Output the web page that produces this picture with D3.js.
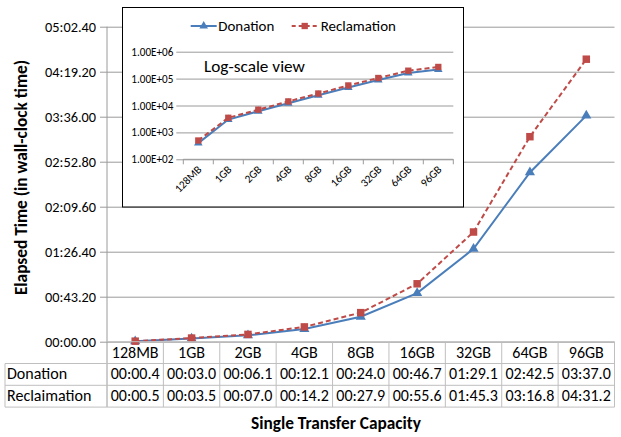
<!DOCTYPE html>
<html>
<head>
<meta charset="utf-8">
<style>
  body { margin: 0; background: #fff; }
  svg { display: block; font-family: Carlito, Calibri, Lato, "Open Sans", sans-serif; }
  .grid line { stroke: #9a9a9a; }
  .grid .domain { display: none; }
</style>
</head>
<body>
<div class="start"></div>
<script src="https://cdn.jsdelivr.net/npm/d3@7/dist/d3.min.js"></script>
<script>
var categories = ["128MB", "1GB", "2GB", "4GB", "8GB", "16GB", "32GB", "64GB", "96GB"];
// seconds
var donation    = [0.4, 3.0, 6.1, 12.1, 24.0, 46.7, 89.1, 162.5, 217.0];
var reclamation = [0.5, 3.5, 7.0, 14.2, 27.9, 55.6, 105.3, 196.8, 271.2];
var yTicks = [0, 43.2, 86.4, 129.6, 172.8, 216, 259.2, 302.4];
var logTicks = [1e2, 1e3, 1e4, 1e5, 1e6];
var seriesNames = ["Donation", "Reclamation"];
var rowNames = ["Donation", "Reclaimation"];

var blue = "#4a7ebb", red = "#be4b48";

function pad(n) { return (n < 10 ? "0" : "") + n; }
function fmtTick(s) {
  var m = Math.floor(s / 60), r = s - m * 60;
  return pad(m) + ":" + (r < 10 ? "0" : "") + r.toFixed(2);
}
function fmtCell(s) {
  var m = Math.floor(s / 60), r = s - m * 60;
  return pad(m) + ":" + (r < 10 ? "0" : "") + r.toFixed(1);
}

var svg = d3.select(".start").append("svg")
  .attr("width", 621).attr("height", 437);

// pick a font size so that a sample string is about as wide as in the picture
function fitSize(str, width, bold) {
  var t = svg.append("text").style("font-size", "20px")
    .style("font-weight", bold ? "bold" : null).text(str);
  var w = t.node().getComputedTextLength();
  t.remove();
  return (20 * width / w) + "px";
}

var fTick = fitSize("05:02.40", 51);
var fCell = fitSize("00:00.4", 49);
var fTitle = fitSize("Single Transfer Capacity", 170, true);
var fSmall = fitSize("1.00E+06", 42);
var fLeg = fitSize("Donation", 56);
var fNote = fitSize("Log-scale view", 101);

// ---- main chart
var x = d3.scaleBand().domain(categories).range([107, 614.5]);
var y = d3.scaleLinear().domain([0, 302.4]).range([341.7, 26.7]);

svg.append("g").attr("class", "grid")
  .attr("transform", "translate(107,0)")
  .call(d3.axisLeft(y).tickValues(yTicks).tickFormat(fmtTick)
    .tickSize(-(614.5 - 107)).tickSizeOuter(0).tickPadding(11))
  .call(function(g) {
    g.selectAll(".tick line").attr("x1", -7);
    g.selectAll("text").attr("fill", "#000").style("font-size", fTick)
      .style("font-family", "Carlito, Calibri, Lato, sans-serif");
  });

// vertical axis line running through the table
svg.append("line").attr("x1", 107).attr("x2", 107)
  .attr("y1", 26.7).attr("y2", 407).attr("stroke", "#9a9a9a");

var series = [
  { name: "Donation", values: donation, color: blue, dash: null, marker: "tri" },
  { name: "Reclamation", values: reclamation, color: red, dash: "5,3", marker: "sq" }
];

function drawSeries(g, xs, ys, s, size, lw) {
  var line = d3.line()
    .x(function(d, i) { return xs(categories[i]) + xs.bandwidth() / 2; })
    .y(function(d) { return ys(d); });
  g.append("path").datum(s.values)
    .attr("d", line).attr("fill", "none")
    .attr("stroke", s.color).attr("stroke-width", lw)
    .attr("stroke-dasharray", s.dash);
  g.selectAll(null).data(s.values).enter().append("path")
    .attr("transform", function(d, i) {
      return "translate(" + (xs(categories[i]) + xs.bandwidth() / 2) + "," + ys(d) + ")";
    })
    .attr("d", d3.symbol().type(s.marker === "tri" ? d3.symbolTriangle : d3.symbolSquare)
      .size(s.marker === "tri" ? size * 0.8 : size))
    .attr("fill", s.color);
}

series.forEach(function(s) { drawSeries(svg.append("g"), x, y, s, 56, 2); });

// ---- data table
var rowTop = 341.7, rowH = 21.8;
var tbl = svg.append("g").attr("stroke", "#bfbfbf").attr("fill", "none");
tbl.append("line").attr("x1", 107).attr("x2", 614.5).attr("y1", rowTop).attr("y2", rowTop);
[1, 2, 3].forEach(function(r) {
  tbl.append("line").attr("x1", 5).attr("x2", 614.5)
    .attr("y1", rowTop + r * rowH).attr("y2", rowTop + r * rowH);
});
tbl.append("line").attr("x1", 5).attr("x2", 5).attr("y1", rowTop + rowH).attr("y2", rowTop + 3 * rowH);
categories.forEach(function(c) {
  var xr = x(c) + x.bandwidth();
  tbl.append("line").attr("x1", xr).attr("x2", xr).attr("y1", rowTop).attr("y2", rowTop + 3 * rowH);
});

var cellText = svg.append("g").style("font-size", fCell).attr("fill", "#000");
cellText.selectAll(".hdr").data(categories).enter().append("text")
  .attr("x", function(d) { return x(d) + x.bandwidth() / 2; })
  .attr("y", rowTop + rowH / 2 + 5)
  .attr("text-anchor", "middle").text(function(d) { return d; });
[donation, reclamation].forEach(function(vals, r) {
  var yy = rowTop + (r + 1) * rowH + rowH / 2 + 5;
  cellText.append("text").attr("x", 7).attr("y", yy).text(rowNames[r]);
  cellText.selectAll(null).data(vals).enter().append("text")
    .attr("x", function(d, i) { return x(categories[i]) + x.bandwidth() / 2; })
    .attr("y", yy).attr("text-anchor", "middle")
    .text(function(d) { return fmtCell(d); });
});

// axis titles
svg.append("text").attr("x", 336).attr("y", 429).attr("text-anchor", "middle")
  .style("font-size", fTitle).style("font-weight", "bold").text("Single Transfer Capacity");
svg.append("text").attr("transform", "translate(27,177.5) rotate(-90)")
  .attr("text-anchor", "middle").style("font-size", fTitle).style("font-weight", "bold")
  .text("Elapsed Time (in wall-clock time)");

// ---- inset (log scale, milliseconds)
var inset = svg.append("g");
inset.append("rect").attr("x", 122.5).attr("y", 7.5).attr("width", 341).attr("height", 199.5)
  .attr("fill", "#fff").attr("stroke", "#000");

var xi = d3.scaleBand().domain(categories).range([183.3, 453.3]);
var yi = d3.scaleLog().domain([1e2, 1e6]).range([159.3, 51.7]);

inset.append("g").attr("class", "grid")
  .attr("transform", "translate(183.3,0)")
  .call(d3.axisLeft(yi).tickValues(logTicks)
    .tickFormat(function(d) { return d3.format(".2e")(d).toUpperCase().replace("E+", "E+0"); })
    .tickSize(-270).tickSizeOuter(0).tickPadding(10))
  .call(function(g) {
    g.selectAll(".tick line").attr("x1", -7);
    g.selectAll("text").attr("fill", "#000").style("font-size", fSmall)
      .style("font-family", "Carlito, Calibri, Lato, sans-serif");
  });

var xiAxis = inset.append("g").attr("transform", "translate(0,159.3)");
xiAxis.append("line").attr("x1", 183.3).attr("x2", 453.3).attr("stroke", "#9a9a9a");
xiAxis.selectAll(".tk").data(categories.concat([null])).enter().append("line")
  .attr("x1", function(d, i) { return 183.3 + i * xi.bandwidth(); })
  .attr("x2", function(d, i) { return 183.3 + i * xi.bandwidth(); })
  .attr("y1", 0).attr("y2", 5).attr("stroke", "#9a9a9a");
xiAxis.selectAll(".lbl").data(categories).enter().append("text")
  .attr("transform", function(d) {
    return "translate(" + (xi(d) + xi.bandwidth() / 2 + 4) + ",11) rotate(-45)";
  })
  .attr("text-anchor", "end").style("font-size", fSmall).attr("fill", "#000")
  .text(function(d) { return d; });

series.forEach(function(s) {
  var ms = { color: s.color, dash: s.dash, marker: s.marker,
             values: s.values.map(function(v) { return v * 1000; }) };
  drawSeries(inset.append("g"), xi, yi, ms, 40, 2);
});

inset.append("text").attr("x", 204).attr("y", 72).style("font-size", fNote)
  .text("Log-scale view");

// legend
var leg = inset.append("g").style("font-size", fLeg);
[{ x0: 190.7, tx: 218.3 }, { x0: 291.7, tx: 320.7 }].forEach(function(p, i) {
  var s = series[i];
  leg.append("line").attr("x1", p.x0).attr("x2", p.x0 + 26).attr("y1", 26).attr("y2", 26)
    .attr("stroke", s.color).attr("stroke-width", 2).attr("stroke-dasharray", s.dash ? "4,3" : null);
  leg.append("path").attr("transform", "translate(" + (p.x0 + 13) + ",26)")
    .attr("d", d3.symbol().type(s.marker === "tri" ? d3.symbolTriangle : d3.symbolSquare)
      .size(s.marker === "tri" ? 32 : 40))
    .attr("fill", s.color);
  leg.append("text").attr("x", p.tx).attr("y", 31).text(seriesNames[i]);
});
</script>
</body>
</html>
